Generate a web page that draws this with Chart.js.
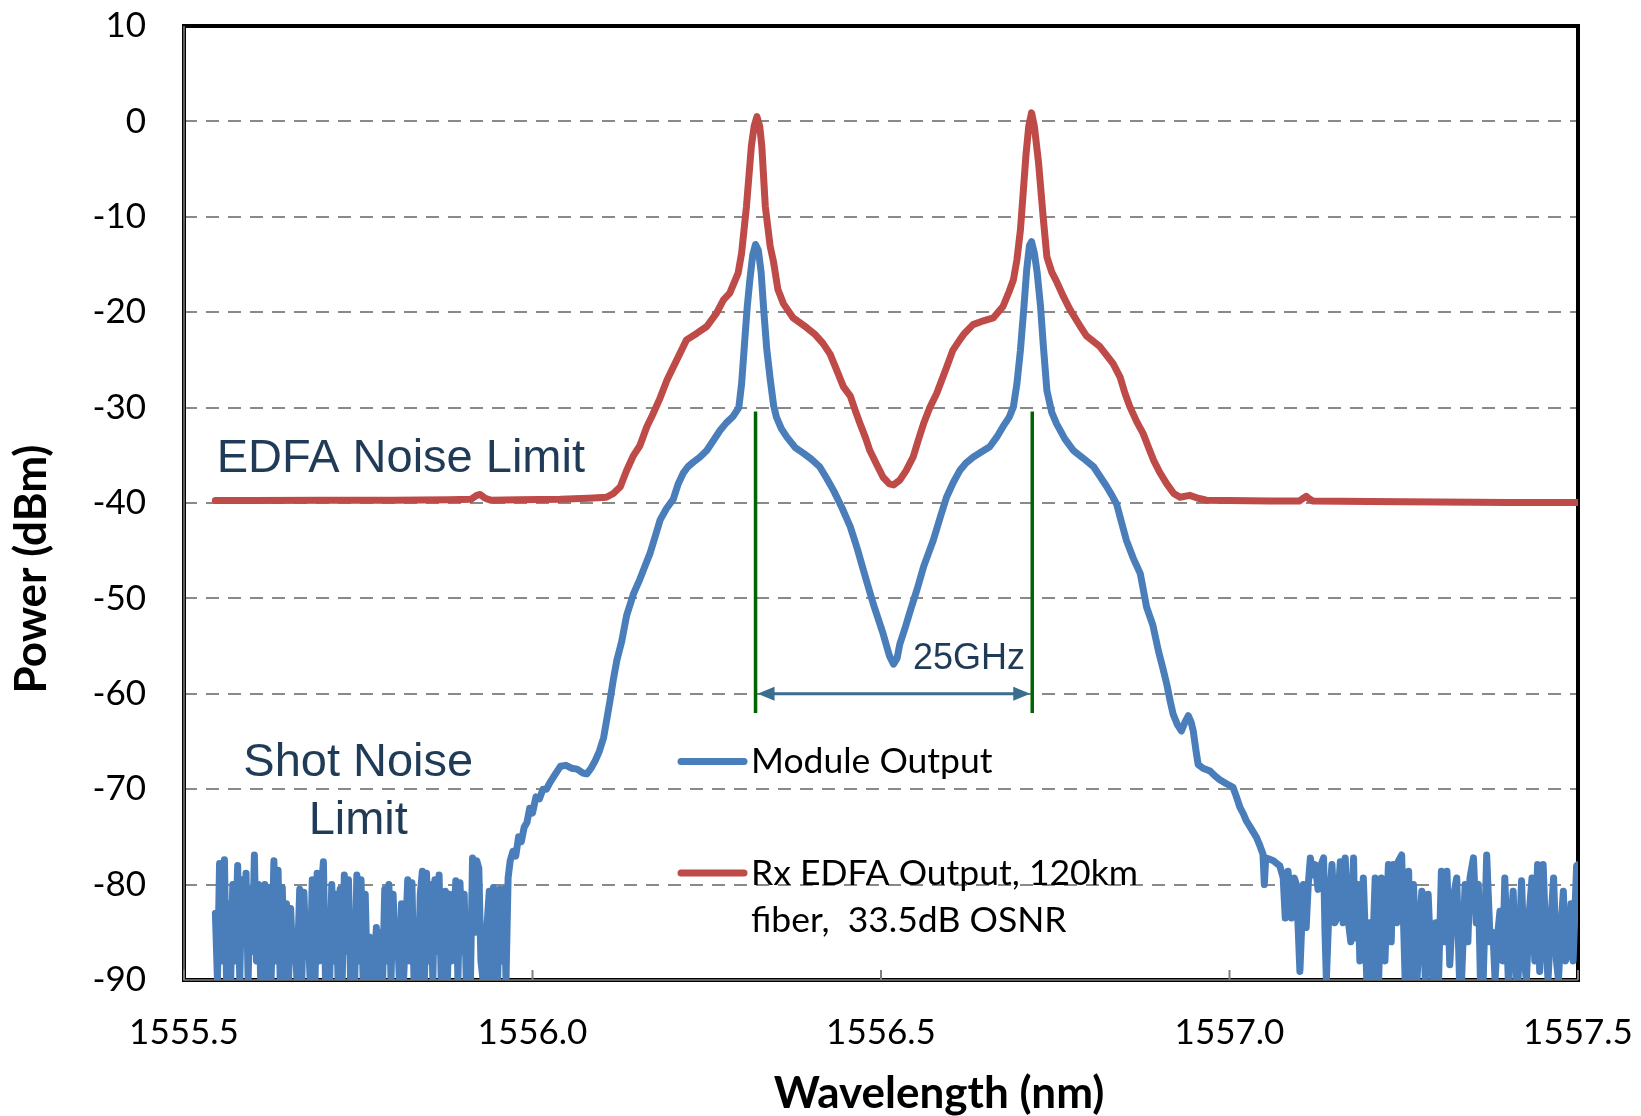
<!DOCTYPE html>
<html>
<head>
<meta charset="utf-8">
<title>Module output spectrum</title>
<script src="https://cdn.jsdelivr.net/npm/chart.js@4.4.1/dist/chart.umd.min.js"></script>
<style>
  html, body { margin: 0; padding: 0; background: #fff; }
  canvas { display: block; }
</style>
</head>
<body>
<canvas id="spectrum" width="1641" height="1116"></canvas>
<script>
// Module output trace: wavelength (nm) and power (dBm)
const modWl = [
  1555.545, 1555.548, 1555.551, 1555.555, 1555.558, 1555.561, 1555.564, 1555.567, 1555.570, 1555.573,
  1555.577, 1555.580, 1555.583, 1555.586, 1555.589, 1555.592, 1555.595, 1555.598, 1555.601, 1555.604,
  1555.607, 1555.610, 1555.613, 1555.616, 1555.619, 1555.622, 1555.625, 1555.629, 1555.632, 1555.635,
  1555.638, 1555.641, 1555.644, 1555.647, 1555.650, 1555.653, 1555.656, 1555.659, 1555.662, 1555.666,
  1555.669, 1555.672, 1555.675, 1555.678, 1555.681, 1555.684, 1555.688, 1555.691, 1555.694, 1555.697,
  1555.700, 1555.703, 1555.706, 1555.709, 1555.712, 1555.715, 1555.718, 1555.721, 1555.724, 1555.727,
  1555.730, 1555.733, 1555.736, 1555.739, 1555.742, 1555.745, 1555.748, 1555.751, 1555.754, 1555.757,
  1555.760, 1555.763, 1555.766, 1555.769, 1555.772, 1555.776, 1555.779, 1555.782, 1555.785, 1555.788,
  1555.791, 1555.794, 1555.797, 1555.800, 1555.803, 1555.806, 1555.809, 1555.812, 1555.815, 1555.818,
  1555.821, 1555.824, 1555.827, 1555.830, 1555.833, 1555.836, 1555.839, 1555.842, 1555.845, 1555.848,
  1555.851, 1555.854, 1555.857, 1555.860, 1555.863, 1555.866, 1555.869, 1555.872, 1555.875, 1555.878,
  1555.881, 1555.884, 1555.887, 1555.890, 1555.893, 1555.896, 1555.899, 1555.902, 1555.905, 1555.908,
  1555.911, 1555.914, 1555.917, 1555.920, 1555.923, 1555.926, 1555.929, 1555.932, 1555.935, 1555.938,
  1555.941, 1555.944, 1555.947, 1555.950, 1555.953, 1555.956, 1555.959, 1555.962,
  1555.965, 1555.968, 1555.972, 1555.976, 1555.980, 1555.984, 1555.988, 1555.992, 1555.996, 1556.000,
  1556.005, 1556.010, 1556.015, 1556.020, 1556.025, 1556.032, 1556.040, 1556.048, 1556.056, 1556.064,
  1556.072, 1556.078, 1556.084, 1556.090, 1556.096, 1556.102, 1556.107, 1556.111, 1556.116, 1556.121,
  1556.128, 1556.135, 1556.145, 1556.154, 1556.162, 1556.169, 1556.176, 1556.183, 1556.192, 1556.202,
  1556.209, 1556.216, 1556.223, 1556.231, 1556.240, 1556.250, 1556.260, 1556.269, 1556.278, 1556.288,
  1556.296, 1556.300, 1556.304, 1556.308, 1556.312, 1556.316, 1556.320, 1556.324, 1556.328, 1556.332,
  1556.336, 1556.341, 1556.346, 1556.350, 1556.357, 1556.365, 1556.377, 1556.389, 1556.400, 1556.412,
  1556.422, 1556.432, 1556.444, 1556.456, 1556.466, 1556.475, 1556.489, 1556.503, 1556.512, 1556.518,
  1556.523, 1556.527, 1556.535, 1556.542, 1556.552, 1556.561, 1556.575, 1556.585, 1556.594, 1556.604,
  1556.613, 1556.622, 1556.632, 1556.645, 1556.656, 1556.666, 1556.675, 1556.684, 1556.690, 1556.695,
  1556.700, 1556.705, 1556.709, 1556.713, 1556.716, 1556.720, 1556.724, 1556.729, 1556.733, 1556.738,
  1556.745, 1556.752, 1556.764, 1556.776, 1556.790, 1556.805, 1556.815, 1556.824, 1556.832, 1556.838,
  1556.845, 1556.852, 1556.862, 1556.872, 1556.881, 1556.890, 1556.898, 1556.905, 1556.910, 1556.915,
  1556.919, 1556.925, 1556.931, 1556.936, 1556.941, 1556.945, 1556.948, 1556.952, 1556.955, 1556.962,
  1556.972, 1556.979, 1556.986, 1556.995, 1557.005, 1557.010, 1557.015, 1557.020, 1557.024, 1557.030,
  1557.035, 1557.039, 1557.044, 1557.048, 1557.050, 1557.052,
  1557.056, 1557.063, 1557.068, 1557.072, 1557.077, 1557.080, 1557.084, 1557.089, 1557.093, 1557.096,
  1557.101, 1557.106, 1557.110, 1557.113, 1557.116, 1557.120, 1557.123, 1557.127, 1557.130, 1557.135,
  1557.137, 1557.139, 1557.143, 1557.147, 1557.151, 1557.154, 1557.159, 1557.163, 1557.166, 1557.170,
  1557.174, 1557.178, 1557.180, 1557.184, 1557.187, 1557.192, 1557.197, 1557.201, 1557.204, 1557.209,
  1557.214, 1557.218, 1557.223, 1557.228, 1557.232, 1557.235, 1557.240, 1557.242, 1557.247, 1557.252,
  1557.257, 1557.260, 1557.264, 1557.269, 1557.273, 1557.276, 1557.281, 1557.285, 1557.289, 1557.292,
  1557.296, 1557.300, 1557.304, 1557.308, 1557.312, 1557.316, 1557.321, 1557.326, 1557.330, 1557.333,
  1557.338, 1557.342, 1557.345, 1557.350, 1557.354, 1557.357, 1557.360, 1557.364, 1557.369, 1557.374,
  1557.378, 1557.381, 1557.385, 1557.388, 1557.392, 1557.395, 1557.400, 1557.404, 1557.407, 1557.411,
  1557.414, 1557.419, 1557.423, 1557.426, 1557.430, 1557.434, 1557.438, 1557.442, 1557.445, 1557.450,
  1557.454, 1557.457, 1557.461, 1557.465, 1557.469, 1557.472, 1557.476, 1557.479, 1557.482, 1557.486,
  1557.490, 1557.493, 1557.498, 1557.500
];
const modDbm = [
  -83.0, -90, -77.8, -88.0, -77.4, -90, -82.0, -90, -80.0, -88.0,
  -78.0, -90, -79.5, -86.0, -78.8, -90, -80.5, -87.0, -76.9, -88.0,
  -80.0, -90, -86.0, -80.0, -90, -80.3, -90, -77.5, -88.0, -78.5,
  -90, -80.3, -90, -82.0, -90, -82.5, -88.0, -85.0, -90, -80.5,
  -90, -80.8, -87.0, -84.5, -90, -79.5, -90, -78.8, -88.0, -80.5,
  -77.6, -90, -84.5, -90, -80.0, -88.0, -81.0, -90, -80.5, -90,
  -79.0, -87.0, -79.5, -90, -85.0, -90, -79.0, -88.0, -79.5, -90,
  -81.0, -90, -85.5, -88.0, -90, -84.5, -90, -85.0, -90, -80.5,
  -88.0, -80.0, -90, -81.0, -87.0, -84.5, -90, -82.0, -90, -85.0,
  -79.5, -88.0, -79.8, -90, -85.0, -90, -81.0, -78.6, -90, -78.8,
  -88.0, -80.0, -90, -79.5, -87.0, -79.0, -90, -85.0, -80.7, -90,
  -81.0, -88.0, -84.0, -79.6, -90, -79.8, -87.0, -81.0, -90, -83.5,
  -90, -77.2, -85.0, -77.5, -78.3, -88.0, -90, -90, -84.0, -80.7,
  -90, -80.3, -86.0, -90, -80.5, -88.0, -80.5, -90,
  -79.3, -77.5, -76.5, -77.0, -75.0, -75.5, -74.0, -73.5, -72.0, -72.5,
  -70.8, -71.0, -70.0, -70.0, -69.3, -68.5, -67.6, -67.5, -67.8, -67.9,
  -68.3, -68.4, -67.8, -67.0, -66.0, -64.6, -62.5, -60.8, -58.5, -56.5,
  -54.5, -51.8, -49.5, -48.0, -46.5, -45.2, -43.5, -41.8, -40.6, -39.6,
  -38.0, -36.9, -36.2, -35.7, -35.2, -34.5, -33.4, -32.4, -31.6, -30.9,
  -30.0, -27.5, -23.5, -19.5, -16.5, -14.0, -12.9, -13.5, -15.8, -20.0,
  -23.8, -27.0, -29.8, -31.0, -32.2, -33.1, -34.2, -34.8, -35.4, -36.2,
  -37.4, -38.7, -40.5, -42.5, -44.8, -47.1, -50.6, -53.7, -56.0, -56.9,
  -56.3, -54.8, -53.0, -51.3, -49.0, -46.7, -43.9, -41.5, -39.4, -37.8,
  -36.6, -35.8, -35.2, -34.6, -34.1, -33.1, -32.0, -31.0, -29.9, -27.5,
  -24.0, -19.5, -15.6, -13.0, -12.6, -13.8, -15.8, -19.5, -23.6, -28.2,
  -30.5, -31.7, -33.3, -34.5, -35.3, -36.2, -37.3, -38.3, -39.3, -40.1,
  -42.0, -43.9, -45.8, -47.4, -50.9, -52.8, -55.5, -57.5, -59.0, -60.8,
  -62.1, -63.2, -63.9, -63.0, -62.3, -63.0, -63.9, -66.0, -67.4, -67.8,
  -68.1, -68.6, -69.0, -69.4, -69.8, -70.8, -71.9, -72.6, -73.3, -74.0,
  -74.6, -75.1, -76.0, -76.8, -80.0, -77.2,
  -77.3, -77.5, -77.8, -78.0, -79.3, -83.5, -78.6, -83.5, -79.3, -80.0,
  -89.1, -80.0, -84.5, -80.0, -77.2, -79.0, -77.9, -80.5, -78.2, -77.2,
  -85.0, -90, -82.0, -77.9, -84.0, -83.5, -77.6, -84.0, -77.2, -83.5,
  -86.0, -77.2, -85.6, -80.0, -88.0, -79.3, -90, -84.0, -90, -79.3,
  -90, -79.3, -88.0, -77.9, -86.0, -77.9, -84.0, -77.6, -76.9, -90,
  -78.6, -90, -80.0, -90, -84.0, -80.7, -90, -81.0, -88.0, -90,
  -84.0, -90, -78.6, -86.0, -78.6, -88.4, -81.4, -79.3, -90, -90,
  -80.0, -86.0, -79.3, -77.2, -84.0, -80.0, -90, -90, -76.9, -86.0,
  -85.0, -90, -85.0, -82.8, -88.0, -79.3, -90, -84.0, -80.7, -90,
  -90, -79.6, -88.0, -90, -83.0, -79.3, -88.0, -77.9, -89.1, -77.9,
  -86.0, -90, -84.0, -79.3, -88.0, -90, -84.0, -80.7, -88.0, -87.0,
  -82.0, -88.0, -78.0, -77.9
];

// Rx EDFA output after 120 km of fiber
const edfaWl = [
  1555.545, 1555.600, 1555.700, 1555.800, 1555.880, 1555.912, 1555.920, 1555.925, 1555.932, 1555.940,
  1555.980, 1556.040, 1556.080, 1556.106, 1556.116, 1556.126, 1556.135, 1556.145, 1556.154, 1556.164,
  1556.172, 1556.183, 1556.193, 1556.207, 1556.221, 1556.236, 1556.250, 1556.264, 1556.274, 1556.283,
  1556.295, 1556.300, 1556.307, 1556.314, 1556.318, 1556.322, 1556.326, 1556.329, 1556.334, 1556.341,
  1556.346, 1556.352, 1556.360, 1556.374, 1556.393, 1556.405, 1556.417, 1556.427, 1556.436, 1556.446,
  1556.456, 1556.464, 1556.470, 1556.478, 1556.484, 1556.494, 1556.503, 1556.512, 1556.518, 1556.527,
  1556.536, 1556.546, 1556.554, 1556.561, 1556.570, 1556.580, 1556.594, 1556.603, 1556.613, 1556.620,
  1556.632, 1556.647, 1556.661, 1556.675, 1556.684, 1556.690, 1556.695, 1556.700, 1556.704, 1556.708,
  1556.712, 1556.716, 1556.720, 1556.726, 1556.733, 1556.738, 1556.745, 1556.752, 1556.762, 1556.771,
  1556.786, 1556.795, 1556.814, 1556.833, 1556.843, 1556.850, 1556.857, 1556.867, 1556.876, 1556.884,
  1556.891, 1556.900, 1556.910, 1556.920, 1556.929, 1556.943, 1556.955, 1556.967, 1557.000, 1557.058,
  1557.100, 1557.106, 1557.110, 1557.115, 1557.120, 1557.200, 1557.300, 1557.400, 1557.500
];
const edfaDbm = [
  -39.75, -39.75, -39.7, -39.7, -39.65, -39.6, -39.2, -39.1, -39.5, -39.7,
  -39.65, -39.6, -39.5, -39.4, -39.0, -38.3, -36.6, -35.0, -34.0, -32.0,
  -30.8, -29.0, -27.1, -25.0, -22.9, -22.2, -21.5, -20.1, -18.7, -18.0,
  -15.9, -13.8, -8.9, -2.6, -0.5, 0.5, -0.5, -2.6, -8.9, -13.1,
  -14.8, -17.6, -19.1, -20.6, -21.6, -22.3, -23.3, -24.4, -26.0, -27.8,
  -28.8, -30.5, -31.7, -33.2, -34.5, -36.0, -37.3, -38.0, -38.1, -37.6,
  -36.6, -35.2, -33.3, -31.7, -30.0, -28.5, -25.8, -24.0, -22.9, -22.2,
  -21.3, -20.9, -20.6, -19.4, -17.8, -16.6, -14.5, -11.4, -7.5, -3.5,
  -0.5, 0.9, -0.5, -4.3, -10.3, -14.2, -15.8, -16.8, -18.4, -19.7,
  -21.5, -22.5, -23.6, -25.4, -26.8, -28.5, -29.9, -31.5, -32.7, -34.2,
  -35.5, -36.8, -38.0, -39.0, -39.4, -39.2, -39.5, -39.7, -39.75, -39.8,
  -39.8, -39.5, -39.3, -39.6, -39.8, -39.85, -39.9, -39.95, -39.95
];

const xTicks = [1555.5, 1556.0, 1556.5, 1557.0, 1557.5];
const yTicks = [10, 0, -10, -20, -30, -40, -50, -60, -70, -80, -90];
const seriesNames = ['Module Output', ['Rx EDFA Output, 120km', 'fiber,  33.5dB OSNR']];
// carrier positions marked below the two peaks, and the span they bracket
const carrierWl = [1556.32, 1556.717];
const markDbm = [-30.4, -62];
const spacingDbm = -60;

const BLUE = '#4a7ebb';
const RED = '#be4b48';
const NOTE = '#1f3b57';

function toPoints(xs, ys) {
  return xs.map((x, i) => ({ x: x, y: ys[i] }));
}

const overlay = {
  id: 'overlay',
  beforeDatasetsDraw(chart) {
    const { ctx, chartArea: a, scales: { x } } = chart;
    ctx.save();
    ctx.strokeStyle = '#000';
    ctx.lineWidth = 4;
    ctx.strokeRect(a.left, a.top, a.right - a.left, a.bottom - a.top);
    ctx.strokeStyle = '#808080';
    ctx.lineWidth = 1.5;
    ctx.beginPath();
    ctx.moveTo(a.left, a.top);
    ctx.lineTo(a.left, a.bottom);
    ctx.lineTo(a.right, a.bottom);
    ctx.stroke();
    ctx.lineWidth = 2;
    xTicks.forEach(v => {
      const px = x.getPixelForValue(v);
      ctx.beginPath();
      ctx.moveTo(px, a.bottom);
      ctx.lineTo(px, a.bottom - 10);
      ctx.stroke();
    });
    ctx.restore();
  },
  afterDatasetsDraw(chart) {
    const { ctx, chartArea: a, scales: { x, y } } = chart;
    ctx.save();

    // carrier markers
    ctx.strokeStyle = '#006400';
    ctx.lineWidth = 3.5;
    carrierWl.forEach(w => {
      const px = x.getPixelForValue(w);
      ctx.beginPath();
      ctx.moveTo(px, y.getPixelForValue(markDbm[0]));
      ctx.lineTo(px, y.getPixelForValue(markDbm[1]));
      ctx.stroke();
    });

    // double arrow between the carriers
    const x1 = x.getPixelForValue(carrierWl[0]) + 2;
    const x2 = x.getPixelForValue(carrierWl[1]) - 2;
    const ay = y.getPixelForValue(spacingDbm);
    ctx.strokeStyle = '#3a6e8e';
    ctx.fillStyle = '#3a6e8e';
    ctx.lineWidth = 3;
    ctx.beginPath();
    ctx.moveTo(x1 + 10, ay);
    ctx.lineTo(x2 - 10, ay);
    ctx.stroke();
    [[x1, 1], [x2, -1]].forEach(([tip, dir]) => {
      ctx.beginPath();
      ctx.moveTo(tip, ay);
      ctx.lineTo(tip + dir * 17, ay - 7);
      ctx.lineTo(tip + dir * 17, ay + 7);
      ctx.closePath();
      ctx.fill();
    });

    // notes
    ctx.fillStyle = NOTE;
    ctx.textBaseline = 'alphabetic';
    ctx.font = '47px "Liberation Sans", Arial, sans-serif';
    ctx.textAlign = 'left';
    ctx.fillText('EDFA Noise Limit', x.getPixelForValue(1555.547), y.getPixelForValue(-36.74));
    ctx.textAlign = 'center';
    ctx.fillText('Shot Noise', x.getPixelForValue(1555.75), y.getPixelForValue(-68.66));
    ctx.fillText('Limit', x.getPixelForValue(1555.75), y.getPixelForValue(-74.7));
    ctx.font = '36px "Liberation Sans", Arial, sans-serif';
    ctx.textAlign = 'left';
    ctx.fillText('25GHz', x.getPixelForValue(1556.546), y.getPixelForValue(-57.4));

    // legend inside the plot
    const lx = a.left + 497;
    const rows = [
      { color: BLUE, lineY: a.top + 735.5, lines: [seriesNames[0]], base: a.top + 747 },
      { color: RED, lineY: a.top + 847, lines: seriesNames[1], base: a.top + 859 }
    ];
    ctx.font = '35.5px Lato';
    ctx.textAlign = 'left';
    rows.forEach(r => {
      ctx.strokeStyle = r.color;
      ctx.lineWidth = 7;
      ctx.lineCap = 'round';
      ctx.beginPath();
      ctx.moveTo(lx, r.lineY);
      ctx.lineTo(lx + 63, r.lineY);
      ctx.stroke();
      ctx.fillStyle = '#000';
      r.lines.forEach((t, i) => ctx.fillText(t, lx + 70, r.base + i * 46.7));
    });
    ctx.restore();
  },
  afterDraw(chart) {
    const { ctx, chartArea: a } = chart;
    ctx.save();
    ctx.fillStyle = '#000';
    ctx.font = 'bold 44px Lato';
    ctx.textAlign = 'center';
    ctx.textBaseline = 'middle';
    ctx.fillText('Wavelength (nm)', a.left + 755, a.bottom + 114);
    ctx.translate(32, a.top + 543);
    ctx.rotate(-Math.PI / 2);
    ctx.fillText('Power (dBm)', 0, 0);
    ctx.restore();
  }
};

const ctx = document.getElementById('spectrum').getContext('2d');
new Chart(ctx, {
  type: 'line',
  data: {
    datasets: [
      {
        label: seriesNames[0],
        data: toPoints(modWl, modDbm),
        borderColor: BLUE,
        borderWidth: 7,
        pointRadius: 0,
        tension: 0,
        borderJoinStyle: 'round',
        borderCapStyle: 'round'
      },
      {
        label: seriesNames[1].join(' '),
        data: toPoints(edfaWl, edfaDbm),
        borderColor: RED,
        borderWidth: 7,
        pointRadius: 0,
        tension: 0,
        borderJoinStyle: 'round',
        borderCapStyle: 'round'
      }
    ]
  },
  options: {
    responsive: false,
    animation: false,
    layout: { padding: { top: 26, right: 63, left: 0, bottom: 0 } },
    scales: {
      x: {
        type: 'linear',
        min: 1555.5,
        max: 1557.5,
        afterBuildTicks: s => { s.ticks = xTicks.map(v => ({ value: v })); },
        afterFit: s => {
          s.height = 136;
          s.paddingLeft = 0;
          s.paddingRight = 0;
        },
        ticks: {
          maxRotation: 0,
          autoSkip: false,
          padding: 32,
          color: '#000',
          font: { family: 'Lato', size: 35 },
          callback: v => Number(v).toFixed(1)
        },
        grid: { display: false, drawTicks: false },
        border: { display: false }
      },
      y: {
        min: -90,
        max: 10,
        afterBuildTicks: s => { s.ticks = yTicks.map(v => ({ value: v })); },
        afterFit: s => {
          s.width = 184;
          s.paddingTop = 0;
          s.paddingBottom = 0;
        },
        ticks: {
          padding: 38,
          color: '#000',
          font: { family: 'Lato', size: 35 },
          callback: v => String(v)
        },
        grid: { color: '#898989', lineWidth: 2, drawTicks: false },
        border: { display: false, dash: [13, 9] }
      }
    },
    plugins: {
      legend: { display: false },
      tooltip: { enabled: false }
    }
  },
  plugins: [overlay]
});
</script>
</body>
</html>
